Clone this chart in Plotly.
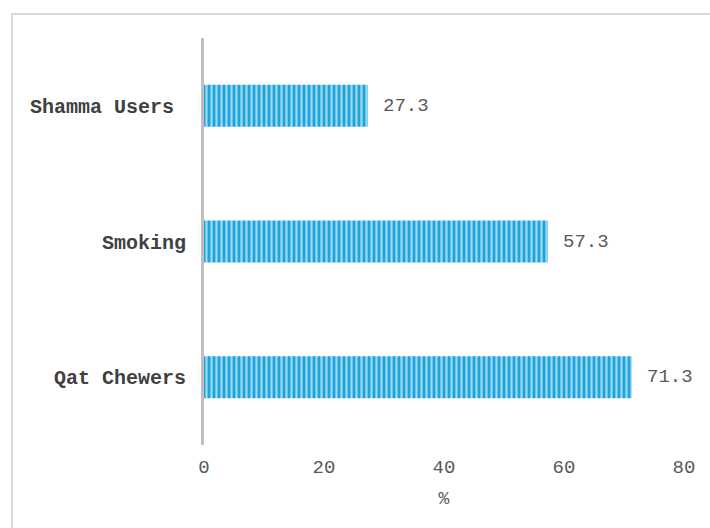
import plotly.graph_objects as go

categories = ["Qat Chewers", "Smoking", "Shamma Users\u00a0"]
values = [71.3, 57.3, 27.3]
x_ticks = [0, 20, 40, 60, 80]

FONT = "Liberation Mono, Courier New, monospace"

fig = go.Figure()
fig.add_trace(go.Bar(
    y=categories,
    x=values,
    orientation="h",
    width=0.31,
    marker=dict(
        color="#1fa3d8",
        line=dict(width=0),
        pattern=dict(shape="|", fgcolor="#9ad8f3", bgcolor="#1fa3d8", size=5, solidity=0.45, fillmode="replace"),
    ),
    hoverinfo="skip",
))

for cat, v in zip(categories, values):
    fig.add_annotation(
        x=v, y=cat, xref="x", yref="y",
        text=f"{v:.1f}", showarrow=False,
        xanchor="left", yanchor="middle", xshift=13,
        font=dict(family=FONT, size=19, color="#595959"),
    )

fig.update_layout(
    width=710, height=528,
    margin=dict(l=204, r=26, t=38, b=83),
    paper_bgcolor="white",
    plot_bgcolor="white",
    showlegend=False,
    font=dict(family=FONT, color="#595959"),
    xaxis=dict(
        range=[0, 80],
        tickvals=x_ticks,
        ticktext=[str(t) for t in x_ticks],
        showgrid=False,
        zeroline=False,
        showline=False,
        ticks="",
        ticklabelstandoff=8,
        tickfont=dict(family=FONT, size=19, color="#595959"),
        title=dict(text="%", font=dict(family=FONT, size=18, color="#595959"), standoff=13),
    ),
    yaxis=dict(
        showgrid=False,
        zeroline=False,
        showline=True,
        linecolor="#bfbfbf",
        linewidth=3,
        ticks="",
        ticklabelstandoff=11,
        tickfont=dict(family=FONT, size=20, color="#404040", weight="bold"),
    ),
    shapes=[
        dict(type="rect", xref="paper", yref="paper",
             x0=-192/480, x1=1.2, y0=-0.3, y1=1 + 24/407,
             line=dict(color="#d9d9d9", width=2), layer="below"),
    ],
)

fig.write_html("out.html")
